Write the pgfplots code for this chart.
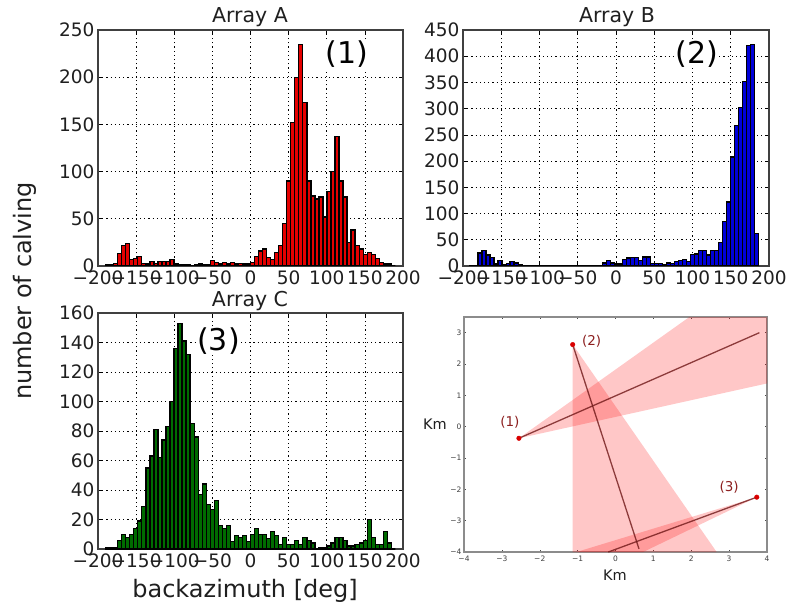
\documentclass[border=0pt]{standalone}
\usepackage{pgfplots}
\pgfplotsset{compat=1.18}
\usepackage{fontspec}
\setmainfont{DejaVu Sans}
\definecolor{txt}{gray}{0.12}
\definecolor{ann}{rgb}{0.55,0.12,0.12}
\definecolor{cA}{rgb}{0.9,0,0}
\definecolor{cB}{rgb}{0,0,0.85}
\definecolor{cC}{rgb}{0,0.42,0}
\pgfplotsset{
  hist/.style={
    scale only axis, xmin=-200, xmax=200, ymin=0,
    xtick={-200,-150,-100,-50,0,50,100,150,200},
    xticklabels={−200,−150,−100,−50,0,50,100,150,200},
    grid=major,
    grid style={black, line width=0.6pt, dash pattern=on 1.2pt off 3pt},
    tick align=inside, major tick length=4pt,
    tick style={black, line width=0.7pt},
    axis line style={black!75, line width=1.2pt},
    /pgf/number format/assume math mode=true,
    /pgf/number format/1000 sep={},
    tick label style={font=\fontsize{18.5}{20}\selectfont, text=txt},
    xticklabel style={yshift=-1pt},
    anchor=south west,
    clip=true,
  },
}
\tikzset{
  bars/.style={ybar interval, draw=black, line width=1.3pt, fill=#1},
  big/.style={font=\fontsize{30}{32}\selectfont, text=black, fill=white, inner sep=1pt},
}
\begin{document}
\begin{tikzpicture}[x=1pt,y=1pt]
\useasboundingbox (0,0) rectangle (786,611);

% Array A
\begin{axis}[hist, at={(98pt,345pt)}, width=305pt, height=236pt, ymax=250, ytick={0,50,100,150,200,250}]
\addplot[bars=cA] coordinates {
(-190,1)(-184.7,1)(-179.4,3)(-174.2,13)(-168.9,22)(-163.6,24)(-158.3,7)(-153.1,8)(-147.8,10)(-142.5,3)
(-137.2,2)(-131.9,5)(-126.7,3)(-121.4,5)(-116.1,5)(-110.8,5)(-105.6,7)(-100.3,2)(-95,1)(-89.7,1)
(-84.4,1)(-79.2,0)(-73.9,1)(-68.6,2)(-63.3,1)(-58.1,1)(-52.8,6)(-47.5,4)(-42.2,2)(-36.9,4)
(-31.7,2)(-26.4,4)(-21.1,2)(-15.8,3)(-10.6,2)(-5.3,2)(0,4)(5.3,10)(10.6,16)(15.8,18)
(21.1,9)(26.4,7)(31.7,14)(36.9,22)(42.2,45)(47.5,90)(52.8,152)(58.1,200)(63.3,235)(68.6,173)
(73.9,90)(79.2,74)(84.4,71)(89.7,73)(95,52)(100.3,79)(105.6,100)(110.8,137)(116.1,90)(121.4,73)
(126.7,25)(131.9,38)(137.2,22)(142.5,18)(147.8,12)(153.1,14)(158.3,12)(163.6,8)(168.9,4)(174.2,2)
(179.4,2)(184.7,0)(190,0)};
\node[big] at (axis cs:126,224) {(1)};
\end{axis}

% Array B
\begin{axis}[hist, at={(463pt,345pt)}, width=306pt, height=236pt, ymax=450, ytick={0,50,100,150,200,250,300,350,400,450}]
\addplot[bars=cB] coordinates {
(-190.8,1)(-185.6,0)(-180.3,25)(-175.1,30)(-169.8,21)(-164.6,16)(-159.4,4)(-154.1,10)(-148.9,2)(-143.6,5)
(-138.4,9)(-133.2,6)(-127.9,2)(-122.7,0)(-117.4,0)(-112.2,1)(-107,1)(-101.7,0)(-96.5,0)(-91.2,0)
(-86,0)(-80.8,0)(-75.5,0)(-70.3,0)(-65,0)(-59.8,0)(-54.6,0)(-49.3,1)(-44.1,0)(-38.8,1)
(-33.6,1)(-28.4,0)(-23.1,1)(-17.9,6)(-12.6,10)(-7.4,6)(-2.2,4)(3.1,4)(8.3,13)(13.6,15)
(18.8,16)(24,16)(29.3,10)(34.5,17)(39.8,17)(45,5)(50.2,5)(55.5,5)(60.7,2)(66,6)
(71.2,5)(76.4,8)(81.7,10)(86.9,12)(92.2,8)(97.4,22)(102.6,23)(107.9,29)(113.1,29)(118.4,21)
(123.6,29)(128.8,29)(134.1,45)(139.3,85)(144.6,122)(149.8,208)(155,268)(160.3,302)(165.5,352)(170.8,420)
(176,422)(181.2,62)(186.5,0)};
\node[big] at (axis cs:106,404) {(2)};
\end{axis}

% Array C
\begin{axis}[hist, at={(98pt,62pt)}, width=305pt, height=236pt, ymax=160, ytick={0,20,40,60,80,100,120,140,160}]
\addplot[bars=cC] coordinates {
(-190,1)(-184.7,1)(-179.4,1)(-174.2,6)(-168.9,10)(-163.6,8)(-158.3,10)(-153.1,14)(-147.8,19)(-142.5,29)
(-137.2,55)(-131.9,63)(-126.7,81)(-121.4,62)(-116.1,74)(-110.8,83)(-105.6,100)(-100.3,136)(-95,153)(-89.7,141)
(-84.4,132)(-79.2,85)(-73.9,76)(-68.6,37)(-63.3,44)(-58.1,30)(-52.8,27)(-47.5,33)(-42.2,16)(-36.9,14)
(-31.7,16)(-26.4,5)(-21.1,9)(-15.8,8)(-10.6,9)(-5.3,5)(0,10)(5.3,14)(10.6,10)(15.8,10)
(21.1,7)(26.4,12)(31.7,9)(36.9,3)(42.2,8)(47.5,3)(52.8,3)(58.1,6)(63.3,3)(68.6,8)
(73.9,6)(79.2,4)(84.4,0)(89.7,1)(95,1)(100.3,2)(105.6,4)(110.8,8)(116.1,8)(121.4,6)
(126.7,2)(131.9,2)(137.2,3)(142.5,4)(147.8,6)(153.1,20)(158.3,8)(163.6,3)(168.9,3)(174.2,12)
(179.4,4)(184.7,0)(190,0)};
\node[big] at (axis cs:-42,141) {(3)};
\end{axis}

% Map
\begin{axis}[scale only axis, anchor=south west, at={(464pt,59pt)}, width=303pt, height=235pt,
  xmin=-4, xmax=4, ymin=-4, ymax=3.5,
  xtick={-4,-3,-2,-1,0,1,2,3,4}, ytick={-4,-3,-2,-1,0,1,2,3},
  xticklabels={−4,−3,−2,−1,0,1,2,3,4}, yticklabels={−4,−3,−2,−1,0,1,2,3},
  tick align=inside, major tick length=2pt,
  tick style={black!70, line width=0.5pt},
  axis line style={black!45, line width=1.2pt},
  /pgf/number format/assume math mode=true,
  tick label style={font=\fontsize{7.5}{9}\selectfont, text=black!75},
  xticklabel style={yshift=0pt}, yticklabel style={xshift=1pt},
  clip=true]
\addplot[draw=none, fill=red, fill opacity=0.22] coordinates {(-2.55,-0.37)(1.95,3.5)(4,3.5)(4,1.38)} -- cycle;
\addplot[draw=none, fill=red, fill opacity=0.22] coordinates {(-1.13,2.62)(-1.13,-4)(2.67,-4)} -- cycle;
\addplot[draw=none, fill=red, fill opacity=0.22] coordinates {(3.73,-2.25)(-1.03,-4)(0.73,-4)} -- cycle;
\addplot[ann!80!black, line width=1.3pt, opacity=0.8] coordinates {(-2.55,-0.37)(3.8,3)};
\addplot[ann!80!black, line width=1.3pt, opacity=0.8] coordinates {(-1.13,2.62)(0.62,-3.9)};
\addplot[ann!80!black, line width=1.3pt, opacity=0.8] coordinates {(3.73,-2.25)(-0.19,-4)};
\addplot[only marks, mark=*, mark size=2.3pt, color=red!85!black] coordinates {(-2.55,-0.37)(-1.13,2.62)(3.73,-2.25)};
\node[text=ann, font=\fontsize{13.5}{15}\selectfont] at (axis cs:-2.79,0.14) {(1)};
\node[text=ann, font=\fontsize{13.5}{15}\selectfont] at (axis cs:-0.63,2.73) {(2)};
\node[text=ann, font=\fontsize{13.5}{15}\selectfont] at (axis cs:3.0,-1.93) {(3)};
\end{axis}

% Titles and labels
\node[anchor=base, text=txt, font=\fontsize{20.5}{22}\selectfont] at (250,588) {Array A};
\node[anchor=base, text=txt, font=\fontsize{20.5}{22}\selectfont] at (617,588) {Array B};
\node[anchor=base, text=txt, font=\fontsize{20.5}{22}\selectfont] at (250,305) {Array C};
\node[text=txt, font=\fontsize{24}{26}\selectfont] at (245,20) {backazimuth [deg]};
\node[rotate=90, text=txt, font=\fontsize{24}{26}\selectfont] at (25,320) {number of calving};
\node[text=txt, font=\fontsize{14.5}{16}\selectfont] at (435,187) {Km};
\node[text=txt, font=\fontsize{14.5}{16}\selectfont] at (615,36) {Km};
\end{tikzpicture}
\end{document}
